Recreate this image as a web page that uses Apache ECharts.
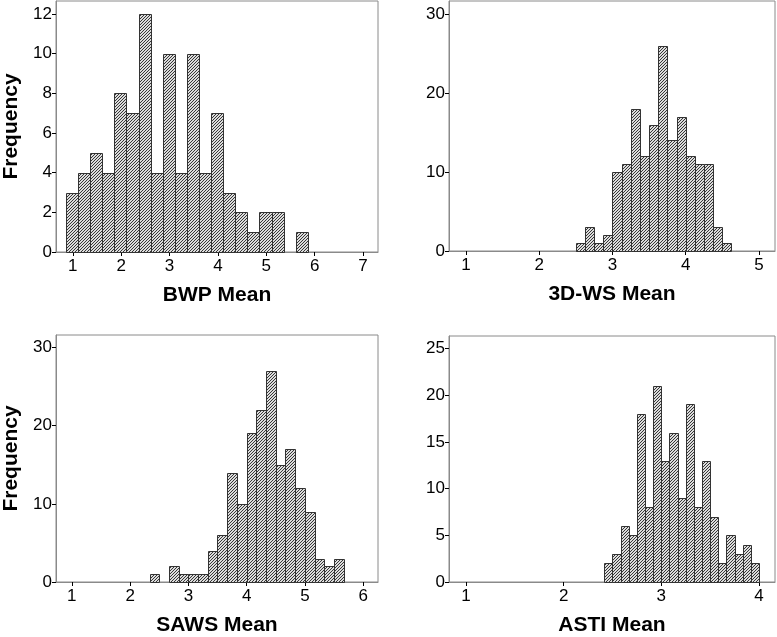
<!DOCTYPE html>
<html>
<head>
<meta charset="utf-8">
<script src="https://cdn.jsdelivr.net/npm/echarts@6/dist/echarts.min.js"></script>
<style>
html,body{margin:0;padding:0;background:#fff;}
#c{width:777px;height:637px;}
</style>
</head>
<body>
<div id="c"></div>
<script>
// ---- data ----
const bwpCounts  = [3,4,5,4,8,7,12,4,10,4,10,4,7,3,2,1,2,2,0,1];
const bwpStart = 0.86, bwpWidth = 0.25;
const wsCounts   = [1,3,1,2,10,11,18,12,16,26,14,17,12,11,11,3,1];
const wsStart = 2.5, wsWidth = 0.125;
const sawsCounts = [1,0,2,1,1,1,4,6,14,10,19,22,27,15,17,12,9,3,2,3];
const sawsStart = 7/3, sawsWidth = 1/6;
const astiCounts = [2,3,6,5,18,8,21,13,16,9,19,8,13,7,2,5,3,4,2];
const astiStart = 29/12, astiWidth = 1/12;

const bwpXTicks  = [1,2,3,4,5,6,7];
const wsXTicks   = [1,2,3,4,5];
const sawsXTicks = [1,2,3,4,5,6];
const astiXTicks = [1,2,3,4];
const bwpYTicks  = [0,2,4,6,8,10,12];
const wsYTicks   = [0,10,20,30];
const sawsYTicks = [0,10,20,30];
const astiYTicks = [0,5,10,15,20,25];

const titles = ['BWP Mean','3D-WS Mean','SAWS Mean','ASTI Mean'];

// ---- hatch pattern ----
const pc = document.createElement('canvas');
pc.width = 3; pc.height = 3;
const pctx = pc.getContext('2d');
const img = pctx.createImageData(3,3);
for (let y=0;y<3;y++) for (let x=0;x<3;x++){
  const i=(y*3+x)*4;
  const dark = ((x+y)%3)===2;
  const v = dark ? 55 : 220;
  img.data[i]=v; img.data[i+1]=v; img.data[i+2]=v; img.data[i+3]=255;
}
pctx.putImageData(img,0,0);
const hatch = {image: pc, repeat: 'repeat'};

function bins(counts, start, width){
  return counts.map((c,i)=>[start+i*width, start+(i+1)*width, c]);
}

const panels = [
  {data: bins(bwpCounts,bwpStart,bwpWidth), xmin:0.653, xmax:7.31, ymax:12.66, xt:bwpXTicks, yt:bwpYTicks,
   grid:{left:52, top:1, width:326, height:251}, freq:true},
  {data: bins(wsCounts,wsStart,wsWidth), xmin:0.768, xmax:5.22, ymax:31.65, xt:wsXTicks, yt:wsYTicks,
   grid:{left:449, top:1, width:326, height:250}, freq:false},
  {data: bins(sawsCounts,sawsStart,sawsWidth), xmin:0.728, xmax:6.255, ymax:31.6, xt:sawsXTicks, yt:sawsYTicks,
   grid:{left:52, top:335, width:326, height:251}, freq:true},
  {data: bins(astiCounts,astiStart,astiWidth), xmin:0.826, xmax:4.164, ymax:26.33, xt:astiXTicks, yt:astiYTicks,
   grid:{left:449, top:336, width:326, height:250}, freq:false}
];

const font = 'Liberation Sans, Arial, sans-serif';
const option = {
  animation:false,
  backgroundColor:'#fff',
  grid: panels.map(p=>Object.assign({show:true, borderColor:'#8a8a8a', borderWidth:1, backgroundColor:'transparent'}, p.grid)),
  xAxis: panels.map((p,i)=>({
    type:'value', gridIndex:i, min:p.xmin, max:p.xmax,
    name: titles[i], nameLocation:'middle', nameGap:33,
    nameTextStyle:{fontFamily:font, fontSize:21, fontWeight:'bold', color:'#000'},
    axisLine:{show:true, onZero:false, lineStyle:{color:'#8a8a8a', width:1}},
    axisTick:{show:true, length:4, customValues:p.xt, lineStyle:{color:'#000'}},
    axisLabel:{customValues:p.xt, margin:6, fontFamily:font, fontSize:17, color:'#000'},
    splitLine:{show:false}
  })),
  yAxis: panels.map((p,i)=>({
    type:'value', gridIndex:i, min:0, max:p.ymax,
    name: p.freq ? 'Frequency' : '', nameLocation:'middle', nameGap:34, nameRotate:90,
    nameTextStyle:{fontFamily:font, fontSize:21, fontWeight:'bold', color:'#000'},
    axisLine:{show:true, lineStyle:{color:'#8a8a8a', width:1}},
    axisTick:{show:true, length:4, customValues:p.yt, lineStyle:{color:'#000'}},
    axisLabel:{customValues:p.yt, margin:4, fontFamily:font, fontSize:17, color:'#000'},
    splitLine:{show:false}
  })),
  series: panels.map((p,i)=>({
    type:'custom', xAxisIndex:i, yAxisIndex:i, data:p.data,
    encode:{x:[0,1], y:2},
    renderItem:function(params, api){
      const x0=api.value(0), x1=api.value(1), v=api.value(2);
      if (!v) return null;
      const a=api.coord([x0,0]), b=api.coord([x1,v]);
      const L=Math.round(a[0])+0.5, R=Math.round(b[0])+0.5;
      const T=Math.round(b[1])+0.5, B=Math.round(a[1])+0.5;
      return {type:'rect', shape:{x:L, y:T, width:R-L, height:B-T},
        style:{fill:hatch, stroke:'#333', lineWidth:1}};
    }
  }))
};
const chart = echarts.init(document.getElementById('c'), null, {renderer:'canvas'});
chart.setOption(option);
</script>
</body>
</html>
